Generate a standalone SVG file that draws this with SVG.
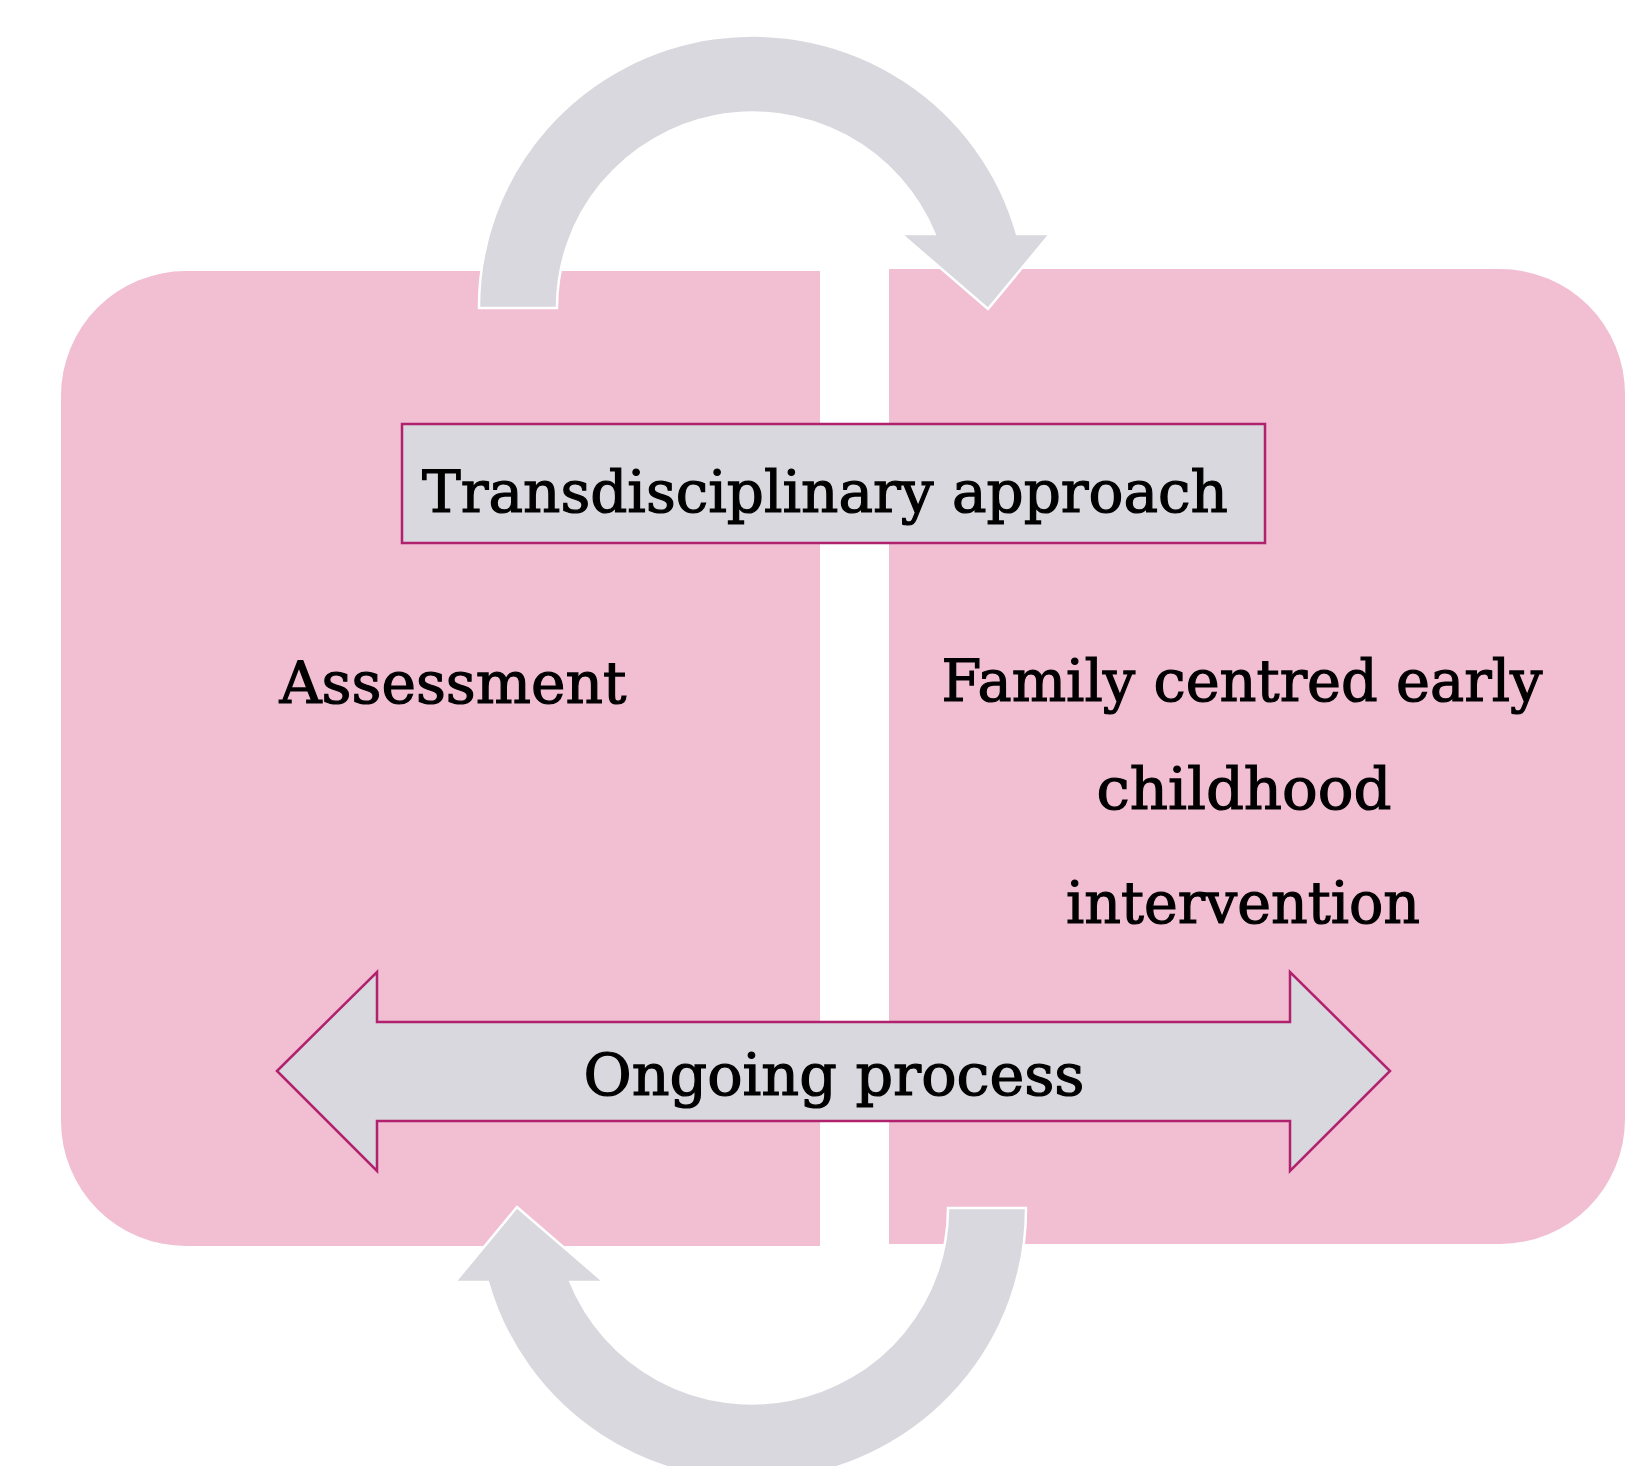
<svg xmlns="http://www.w3.org/2000/svg" width="1627" height="1466" viewBox="0 0 1627 1466">
<style>
.panel{fill:#f1bed2}
.curve{fill:#d9d8de;stroke:#ffffff;stroke-width:2.5}
.box{fill:#d9d8de;stroke:#b0226e;stroke-width:2.5}
.lbl{font-family:"DejaVu Serif","Liberation Serif",serif;font-size:57px;fill:#000;stroke:#000;stroke-width:1.2;text-anchor:middle}
</style>
<rect width="1627" height="1466" fill="#ffffff"/>
<g id="assessment">
<path class="panel" d="M186,271 L820,271 L820,1246 L186,1246 A125,125 0 0 1 61,1121 L61,396 A125,125 0 0 1 186,271 Z"/>
<text class="lbl" x="453" y="703" textLength="347" lengthAdjust="spacingAndGlyphs">Assessment</text>
</g>
<g id="intervention">
<path class="panel" d="M889,269 L1500,269 A125,125 0 0 1 1625,394 L1625,1119 A125,125 0 0 1 1500,1244 L889,1244 Z"/>
<text class="lbl" x="1242" y="701" textLength="601" lengthAdjust="spacingAndGlyphs">Family centred early</text>
<text class="lbl" x="1244" y="809" textLength="295" lengthAdjust="spacingAndGlyphs">childhood</text>
<text class="lbl" x="1243" y="923" textLength="354" lengthAdjust="spacingAndGlyphs">intervention</text>
</g>
<g id="connectors">
<path class="curve" d="M479,308 A274,271 0 0 1 1017,234 L1050,234 L988,309 L901,234 L934.5,234 A196,195 0 0 0 557,308 Z"/>
<path class="curve" transform="rotate(180 752.5 758)" d="M479,308 A274,271 0 0 1 1017,234 L1050,234 L988,309 L901,234 L934.5,234 A196,195 0 0 0 557,308 Z"/>
</g>
<g id="transdisciplinary">
<rect class="box" x="402" y="424" width="863" height="119"/>
<text class="lbl" x="825" y="512" textLength="806" lengthAdjust="spacingAndGlyphs">Transdisciplinary approach</text>
</g>
<g id="ongoing">
<path class="box" d="M277,1071 L377,972 L377,1022 L1290,1022 L1290,972 L1390,1071 L1290,1171 L1290,1121 L377,1121 L377,1171 Z"/>
<text class="lbl" x="834" y="1095" textLength="501" lengthAdjust="spacingAndGlyphs">Ongoing process</text>
</g>
</svg>
